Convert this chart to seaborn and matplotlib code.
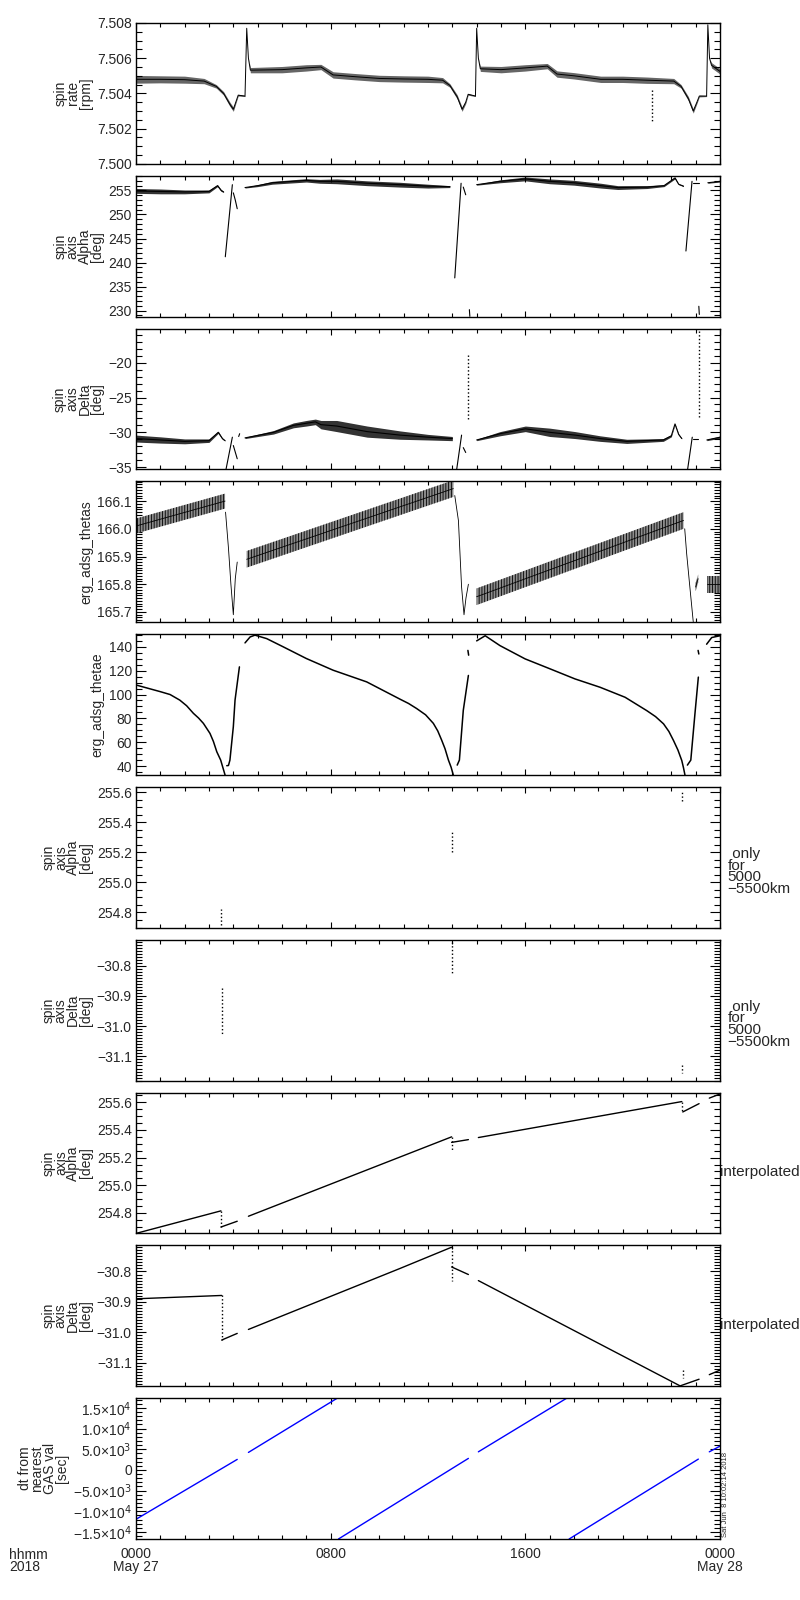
import numpy as np
import pandas as pd
import matplotlib
matplotlib.use("Agg")
from matplotlib import pyplot as plt
from matplotlib.ticker import MultipleLocator, FuncFormatter
import seaborn as sns

# time axis: hours after 0000 May 27 2018
# None separates pieces of a trace that are not joined in the original

# spin rate [rpm]: centre of the quantised band and its half width
RATE_T = [0.0, 1.0, 2.0, 2.8, 3.3, 3.6, 3.85, 4.0, 4.1, 4.2,
          4.48, 4.55, 4.62, 4.7, 6.0, 7.0, 7.6, 8.1, 9.0, 10.0,
          11.0, 12.0, 12.6, 12.9, 13.2, 13.4, 13.55, 13.65, 13.95, 14.0,
          14.07, 14.15, 15.0, 16.0, 16.9, 17.3, 18.0, 19.1, 20.0, 21.0,
          22.1, 22.4, 22.7, 22.9, 23.05, 23.15, 23.45, 23.5, 23.57, 23.65,
          24.0]
RATE_V = [7.5048, 7.5048, 7.50478, 7.5047, 7.5044, 7.5040, 7.5034, 7.5031, 7.5035, 7.5039,
          7.50385, 7.5077, 7.5060, 7.50532, 7.50535, 7.50545, 7.5055, 7.50505, 7.50495, 7.50485,
          7.50482, 7.5048, 7.50475, 7.50445, 7.5038, 7.5031, 7.5035, 7.50395, 7.50385, 7.5077,
          7.5060, 7.5054, 7.50535, 7.50545, 7.50555, 7.5051, 7.5050, 7.5048, 7.5048, 7.50475,
          7.5047, 7.5044, 7.5037, 7.5030, 7.5035, 7.50385, 7.50385, 7.5079, 7.5060, 7.5056,
          7.50525]
RATE_W = [0.00022, 0.0002, 0.0002, 0.00015, 0.0001, 0.0001, 0.00012, 0.00012, 0.00008, 0.00005,
          0.00003, 0, 0, 0.00015, 0.00018, 0.00018, 0.00015, 0.00018, 0.00018, 0.00018,
          0.00018, 0.00018, 0.00015, 0.0001, 0.00012, 0.00012, 0.00008, 0.00005, 0.00003, 0,
          0, 0.00015, 0.00018, 0.00018, 0.00015, 0.00018, 0.00018, 0.00018, 0.00018, 0.00018,
          0.00015, 0.0001, 0.00012, 0.00012, 0.00008, 0.00005, 0.00003, 0, 0, 0.00015,
          0.00015]
RATE_DOT_T = [21.2, 21.2]
RATE_DOT_V = [7.5042, 7.5023]

# spin axis Alpha [deg]
ALPHA_T = [0.0, 1.0, 2.0, 3.0, 3.35, 3.5, 3.6, None,
           3.67, 3.96, None,
           4.0, 4.08, 4.16, None,
           4.48, 5.0, 5.6, 7.0, 7.55, 8.25, 9.5, 10.85, 12.0, 12.9, None,
           13.1, 13.36, None,
           13.45, 13.55, None,
           13.7, 13.72, None,
           14.0, 14.96, 16.0, 17.0, 18.0, 19.1, 19.8, 21.0, 21.7, 22.15, 22.3, 22.5, None,
           22.6, 22.85, None,
           22.88, 23.12, None,
           23.13, 23.15, None,
           23.5, 24.0]
ALPHA_V = [254.9, 254.8, 254.7, 254.8, 256.0, 255.0, 254.7, None,
           241.2, 256.2, None,
           254.5, 253.0, 251.2, None,
           255.6, 256.0, 256.6, 257.1, 256.9, 256.9, 256.5, 256.2, 255.9, 255.8, None,
           236.8, 256.5, None,
           255.7, 254.1, None,
           230.2, 228.8, None,
           256.2, 256.9, 257.4, 256.9, 256.6, 256.0, 255.6, 255.7, 256.0, 257.6, 256.3, 255.9, None,
           242.4, 256.9, None,
           256.6, 256.6, None,
           230.9, 229.2, None,
           256.6, 256.9]
ALPHA_W = [0.5, 0.5, 0.4, 0.3, 0.2, 0.2, 0.1, None,
           0, 0, None,
           0, 0, 0, None,
           0.1, 0.2, 0.3, 0.35, 0.4, 0.5, 0.5, 0.5, 0.4, 0.2, None,
           0, 0, None,
           0, 0, None,
           0, 0, None,
           0.1, 0.3, 0.4, 0.5, 0.5, 0.5, 0.4, 0.3, 0.2, 0.2, 0.1, 0.1, None,
           0, 0, None,
           0, 0, None,
           0, 0, None,
           0.1, 0.15]

# spin axis Delta [deg]
DELTA_T = [0.0, 1.0, 2.0, 3.0, 3.38, 3.55, 3.66, None,
           3.70, 3.96, None,
           4.0, 4.16, None,
           4.22, 4.26, None,
           4.48, 5.65, 6.47, 7.0, 7.37, 7.6, 8.25, 9.5, 10.85, 12.0, 13.0, None,
           13.18, 13.38, None,
           13.45, 13.55, None,
           14.0, 14.96, 16.0, 17.0, 18.05, 19.07, 20.17, 21.67, 22.0, 22.15, 22.3, 22.43, None,
           22.67, 22.86, None,
           22.9, 23.1, None,
           23.46, 24.0]
DELTA_V = [-30.9, -31.1, -31.3, -31.2, -30.0, -30.9, -31.2, None,
           -35.3, -30.7, None,
           -31.9, -33.8, None,
           -30.6, -30.2, None,
           -30.8, -30.0, -29.0, -28.7, -28.5, -28.9, -29.1, -29.9, -30.4, -30.7, -30.9, None,
           -35.3, -30.4, None,
           -32.2, -32.9, None,
           -31.1, -30.2, -29.5, -30.0, -30.4, -30.9, -31.3, -31.1, -30.5, -28.8, -30.3, -30.9, None,
           -35.3, -30.7, None,
           -30.9, -30.9, None,
           -31.1, -30.7]
DELTA_W = [0.5, 0.45, 0.35, 0.25, 0.15, 0.1, 0.05, None,
           0, 0, None,
           0, 0, None,
           0, 0, None,
           0.1, 0.25, 0.35, 0.4, 0.4, 0.6, 0.8, 0.8, 0.6, 0.4, 0.3, None,
           0, 0, None,
           0, 0, None,
           0.1, 0.3, 0.4, 0.6, 0.5, 0.4, 0.3, 0.2, 0.15, 0.1, 0.1, 0.05, None,
           0, 0, None,
           0, 0, None,
           0.1, 0.15]
DELTA_SPIKE_T = [13.66, 13.66, None, 23.14, 23.14]
DELTA_SPIKE_V = [-18.9, -28.3, None, -15.5, -27.8]

# erg_adsg_thetas
THETAS_T = [0.0, 3.66, None,
            3.68, 3.8, 3.9, 4.0, 4.08, 4.16, None,
            4.55, 13.04, None,
            13.1, 13.25, 13.38, 13.48, 13.56, 13.66, None,
            14.0, 22.5, None,
            22.55, 22.63, 22.75, 22.9, None,
            23.0, 23.1, None,
            23.45, 24.0]
THETAS_V = [166.01, 166.10, None,
            166.06, 165.93, 165.80, 165.69, 165.82, 165.88, None,
            165.89, 166.145, None,
            166.12, 166.03, 165.79, 165.69, 165.75, 165.80, None,
            165.755, 166.03, None,
            166.0, 165.91, 165.80, 165.665, None,
            165.79, 165.82, None,
            165.80, 165.80]
THETAS_W = [0.027, 0.027, None,
            0, 0, 0, 0, 0, 0, None,
            0.03, 0.03, None,
            0, 0, 0, 0, 0, 0, None,
            0.03, 0.03, None,
            0, 0, 0, 0, None,
            0.015, 0.015, None,
            0.03, 0.03]

# erg_adsg_thetae
THETAE_T = [0.0, 1.0, 1.4, 1.8, 2.08, 2.36, 2.57, 2.77, 3.04, 3.18, 3.32, 3.48, 3.66, None,
            3.73, 3.8, 3.86, 4.0, 4.07, 4.25, None,
            4.48, 4.69, 4.89, 5.37, 6.05, 7.0, 8.1, 9.48, 10.85, 11.2, 11.53, 11.9, 12.22,
            12.4, 12.56, 12.7, 12.84, 12.95, 13.04, None,
            13.2, 13.29, 13.45, 13.66, None,
            13.64, 13.67, None,
            14.0, 14.35, 14.96, 15.99, 17.02, 18.04, 19.07, 20.1, 20.99, 21.35, 21.68, 21.9,
            22.09, 22.27, 22.43, 22.5, 22.56, None,
            22.66, 22.8, 22.97, 23.11, None,
            23.1, 23.13, None,
            23.45, 23.66, 24.0]
THETAE_V = [108, 102.4, 100, 95.3, 90.6, 84.2, 80.3, 75.8, 67.4, 60.7, 52.0, 45.0, 32.5, None,
            40.3, 40.5, 45, 73, 95.3, 123.2, None,
            143.3, 148.3, 149.8, 146.9, 140, 130.2, 120.4, 110.6, 96.1, 92.5, 88.3, 83.0, 75.8,
            69.5, 61.8, 54.5, 45, 39.0, 32.5, None,
            40.8, 45, 86.7, 116, None,
            137, 133, None,
            145, 149.3, 141, 129.9, 121.5, 113.1, 106.1, 97.7, 86.5, 81.5, 75.4, 69.0,
            61.4, 53.5, 44.6, 38.5, 32.5, None,
            40.8, 45, 83.8, 114.6, None,
            137, 134, None,
            142.2, 147.8, 149.3]

# selected samples (5000-5500 km only)
ALPHA_SEL_T = [3.49, 3.49, None, 12.97, 12.97, None, 22.43, 22.43]
ALPHA_SEL_V = [254.72, 254.82, None, 255.20, 255.34, None, 255.54, 255.60]
DELTA_SEL_T = [3.52, 3.52, None, 12.97, 12.97, None, 22.43, 22.43]
DELTA_SEL_V = [-30.874, -31.03, None, -30.72, -30.83, None, -31.13, -31.155]

# interpolated spin axis
ALPHA_INT_T = [0.0, 3.49, None, 3.49, 4.16, None, 4.62, 12.97, None,
               12.97, 13.66, None, 14.07, 22.43, None, 22.47, 23.14, None, 23.56, 24.0]
ALPHA_INT_V = [254.652, 254.815, None, 254.698, 254.74, None, 254.776, 255.35, None,
               255.31, 255.33, None, 255.345, 255.605, None, 255.53, 255.59, None, 255.63, 255.66]
ALPHA_JUMP_T = [3.49, 3.49, None, 12.97, 12.97, None, 22.43, 22.43]
ALPHA_JUMP_V = [254.815, 254.698, None, 255.35, 255.253, None, 255.605, 255.53]

DELTA_INT_T = [0.0, 3.52, None, 3.52, 4.16, None, 4.62, 10.85, 12.97, None,
               12.97, 13.66, None, 14.07, 22.36, 23.14, None, 23.56, 24.0]
DELTA_INT_V = [-30.89, -30.879, None, -31.026, -31.004, None, -30.991, -30.79, -30.72, None,
               -30.785, -30.81, None, -30.83, -31.177, -31.155, None, -31.14, -31.125]
DELTA_JUMP_T = [3.52, 3.52, None, 12.97, 12.97, None, 22.47, 22.47]
DELTA_JUMP_V = [-30.879, -31.026, None, -30.72, -30.83, None, -31.125, -31.15]

# dt from nearest GAS value [sec]
DT_T = [0.0, 4.16, None, 4.62, 8.27, None, 8.32, 13.66, None,
        14.07, 17.7, None, 17.8, 23.11, None, 23.56, 24.0]
DT_V = [-11935, 2546, None, 4236, 17350, None, -16700, 2788, None,
        4381, 17350, None, -16700, 2619, None, 4381, 5757]
DT_TICKS = [-15000, -10000, -5000, 0, 5000, 10000, 15000]
DT_LABELS = ["\u22121.5\u00d710$^4$", "\u22121.0\u00d710$^4$", "\u22125.0\u00d710$^3$", "0",
             "5.0\u00d710$^3$", "1.0\u00d710$^4$", "1.5\u00d710$^4$"]

X_TICKS = [0, 8, 16, 24]
X_LABELS = ["0000\nMay 27", "0800", "1600", "0000\nMay 28"]


def to_frame(t, v, w=None):
    if w is None:
        w = [0 if a is not None else None for a in t]
    rows = []
    seg = 0
    for a, b, c in zip(t, v, w):
        if a is None:
            seg += 1
            continue
        rows.append((a, b, c, seg))
    return pd.DataFrame(rows, columns=["t", "v", "w", "seg"])


def trace(ax, t, v, w=None, color="black", lw=0.8, ls="-", band=None):
    df = to_frame(t, v, w)
    sns.lineplot(data=df, x="t", y="v", units="seg", estimator=None, sort=False,
                 color=color, linewidth=lw, linestyle=ls, ax=ax, legend=False)
    if band is not None:
        for _, g in df.groupby("seg"):
            if (g.w > 0).any():
                ax.fill_between(g.t, g.v - g.w, g.v + g.w, **band)


def num_fmt(d):
    return FuncFormatter(lambda x, p: f"{x:.{d}f}".replace("-", "\u2212"))


sns.set_style("ticks")
plt.rcParams["font.family"] = ["Liberation Sans", "DejaVu Sans"]
plt.rcParams["font.size"] = 10
plt.rcParams["axes.linewidth"] = 1.0
plt.rcParams["hatch.linewidth"] = 0.6

fig, axes = plt.subplots(10, 1, figsize=(8, 16), dpi=100, sharex=True)
fig.subplots_adjust(left=136 / 800, right=720 / 800, top=1 - 23 / 1600,
                    bottom=1 - 1539 / 1600, hspace=12 / 141)

solid = dict(color="black", alpha=0.8, linewidth=0)
hatched = dict(facecolor="#8c8c8c", edgecolor="black", hatch="||||||", linewidth=0)

# 1 spin rate
ax = axes[0]
trace(ax, RATE_T, RATE_V, RATE_W, lw=0.7, band=dict(color="black", alpha=0.6, linewidth=0))
trace(ax, RATE_DOT_T, RATE_DOT_V, ls=":", lw=1.0)
ax.set_ylim(7.500, 7.508)
ax.yaxis.set_major_locator(MultipleLocator(0.002))
ax.yaxis.set_minor_locator(MultipleLocator(0.0005))
ax.yaxis.set_major_formatter(num_fmt(3))
ax.set_ylabel("spin\nrate\n[rpm]")

# 2 spin axis alpha
ax = axes[1]
trace(ax, ALPHA_T, ALPHA_V, ALPHA_W, band=solid)
ax.set_ylim(228.75, 258.05)
ax.yaxis.set_major_locator(MultipleLocator(5))
ax.yaxis.set_minor_locator(MultipleLocator(1))
ax.yaxis.set_major_formatter(num_fmt(0))
ax.set_ylabel("spin\naxis\nAlpha\n[deg]")

# 3 spin axis delta
ax = axes[2]
trace(ax, DELTA_T, DELTA_V, DELTA_W, band=solid)
trace(ax, DELTA_SPIKE_T, DELTA_SPIKE_V, ls=":", lw=1.0)
ax.set_ylim(-35.33, -15.1)
ax.yaxis.set_major_locator(MultipleLocator(5))
ax.yaxis.set_minor_locator(MultipleLocator(1))
ax.yaxis.set_major_formatter(num_fmt(0))
ax.set_ylabel("spin\naxis\nDelta\n[deg]")

# 4 thetas
ax = axes[3]
trace(ax, THETAS_T, THETAS_V, THETAS_W, lw=0.6, band=hatched)
ax.set_ylim(165.663, 166.171)
ax.yaxis.set_major_locator(MultipleLocator(0.1))
ax.yaxis.set_minor_locator(MultipleLocator(0.01))
ax.yaxis.set_major_formatter(num_fmt(1))
ax.set_ylabel("erg_adsg_thetas")

# 5 thetae
ax = axes[4]
trace(ax, THETAE_T, THETAE_V, lw=1.1)
ax.set_ylim(32.5, 150.6)
ax.yaxis.set_major_locator(MultipleLocator(20))
ax.yaxis.set_minor_locator(MultipleLocator(5))
ax.yaxis.set_major_formatter(num_fmt(0))
ax.set_ylabel("erg_adsg_thetae")

# 6 alpha, selected altitudes
ax = axes[5]
trace(ax, ALPHA_SEL_T, ALPHA_SEL_V, ls=":", lw=1.0)
ax.set_ylim(254.698, 255.635)
ax.yaxis.set_major_locator(MultipleLocator(0.2))
ax.yaxis.set_minor_locator(MultipleLocator(0.05))
ax.yaxis.set_major_formatter(num_fmt(1))
ax.set_ylabel("spin\naxis\nAlpha\n[deg]")

# 7 delta, selected altitudes
ax = axes[6]
trace(ax, DELTA_SEL_T, DELTA_SEL_V, ls=":", lw=1.0)
ax.set_ylim(-31.18, -30.714)
ax.yaxis.set_major_locator(MultipleLocator(0.1))
ax.yaxis.set_minor_locator(MultipleLocator(0.01))
ax.yaxis.set_major_formatter(num_fmt(1))
ax.set_ylabel("spin\naxis\nDelta\n[deg]")

# 8 alpha interpolated
ax = axes[7]
trace(ax, ALPHA_INT_T, ALPHA_INT_V, lw=1.0)
trace(ax, ALPHA_JUMP_T, ALPHA_JUMP_V, ls=":", lw=1.0)
ax.set_ylim(254.652, 255.67)
ax.yaxis.set_major_locator(MultipleLocator(0.2))
ax.yaxis.set_minor_locator(MultipleLocator(0.05))
ax.yaxis.set_major_formatter(num_fmt(1))
ax.set_ylabel("spin\naxis\nAlpha\n[deg]")

# 9 delta interpolated
ax = axes[8]
trace(ax, DELTA_INT_T, DELTA_INT_V, lw=1.0)
trace(ax, DELTA_JUMP_T, DELTA_JUMP_V, ls=":", lw=1.0)
ax.set_ylim(-31.178, -30.714)
ax.yaxis.set_major_locator(MultipleLocator(0.1))
ax.yaxis.set_minor_locator(MultipleLocator(0.01))
ax.yaxis.set_major_formatter(num_fmt(1))
ax.set_ylabel("spin\naxis\nDelta\n[deg]")

# 10 dt from nearest GAS value
ax = axes[9]
trace(ax, DT_T, DT_V, color="#0000ff", lw=1.0)
ax.set_ylim(-16700, 17350)
ax.set_yticks(DT_TICKS, DT_LABELS)
ax.yaxis.set_minor_locator(MultipleLocator(1000))
ax.set_ylabel("dt from\nnearest\nGAS val\n[sec]")

for ax in axes:
    ax.set_xlim(0, 24)
    ax.set_xlabel("")
    ax.tick_params(axis="both", which="both", direction="in", top=True, right=True,
                   width=0.8, color="black", labelsize=10)
    ax.tick_params(axis="y", which="major", length=7.2, pad=3)
    ax.tick_params(axis="y", which="minor", length=4.3)
    ax.tick_params(axis="x", which="major", length=4.5, pad=6)
    ax.tick_params(axis="x", which="minor", length=2.6)
    ax.yaxis.label.set_linespacing(0.85)
    ax.yaxis.labelpad = 3
    for s in ax.spines.values():
        s.set_color("black")

axes[-1].set_xticks(X_TICKS, X_LABELS)
axes[-1].xaxis.set_minor_locator(MultipleLocator(1))
for lbl in axes[-1].get_xticklabels():
    lbl.set_linespacing(0.85)

for ax in (axes[5], axes[6]):
    ax.text(1.013, 0.40, " only\nfor\n5000\n\u22125500km", transform=ax.transAxes,
            ha="left", va="center", linespacing=0.8, fontsize=11)
for ax in (axes[7], axes[8]):
    ax.text(1.0, 0.435, "interpolated", transform=ax.transAxes,
            ha="left", va="center", fontsize=11)

fig.text(9 / 800, 1 - 1548 / 1600, "hhmm\n2018", ha="left", va="top",
         linespacing=0.85, fontsize=10)
fig.text(722 / 800, 1 - 1537 / 1600, "Sat Jun  8 10:02:14 2018", rotation=90,
         ha="left", va="bottom", fontsize=5.5)

fig.savefig("out.png", dpi=100)
